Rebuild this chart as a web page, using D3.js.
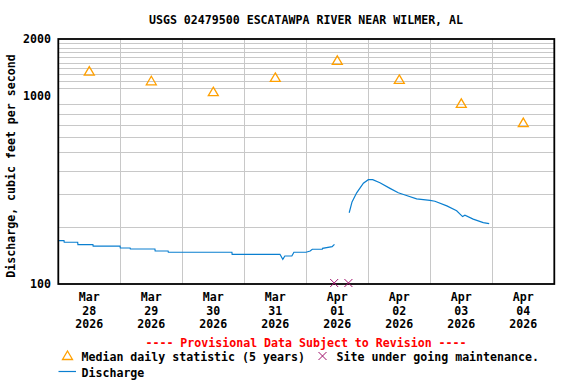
<!DOCTYPE html>
<html>
<head>
<meta charset="utf-8">
<script src="https://cdn.jsdelivr.net/npm/d3@7"></script>
<style>
  html, body { margin: 0; padding: 0; background: #fff; }
  svg text { font-family: "DejaVu Sans Mono", monospace; font-weight: bold; font-size: 11.6px; fill: #000; }
</style>
</head>
<body>
<svg id="chart" width="576" height="384"></svg>
<script>
// day labels (noon of each day), hours from Mar 28 00:00
const DAY_MONTH = ["Mar", "Mar", "Mar", "Mar", "Apr", "Apr", "Apr", "Apr"];
const DAY_NUM = ["28", "29", "30", "31", "01", "02", "03", "04"];
const DAY_YEAR = ["2026", "2026", "2026", "2026", "2026", "2026", "2026", "2026"];

// median daily statistic (5 years), one per day
const MEDIAN = [1350, 1200, 1050, 1250, 1540, 1220, 910, 720];

// discharge, two segments split by the maintenance gap
const Q1_HOURS = [0, 2.2, 2.3, 7.5, 7.6, 13.4, 13.5, 23.9, 24, 27.8, 27.9, 37.4, 37.5, 42.5, 42.6, 67.2, 67.3, 85.8, 86.9, 87.7, 90.4, 91.2, 95.9, 97.5, 98.3, 102.2, 102.3, 106, 106.9];
const Q1_VALUES = [170, 170, 166.6, 166.6, 161.7, 161.7, 159, 159, 155.3, 155.3, 153.4, 153.4, 149.7, 149.7, 147.4, 147.4, 143.8, 143.8, 135.3, 140.8, 140.8, 147.4, 147.4, 149.7, 152.9, 152.9, 154.7, 157.8, 162.5];
const Q2_HOURS = [112.6, 113.7, 115.5, 118.1, 120, 121.7, 124.5, 128.4, 131.6, 134.2, 138.7, 143.9, 145.8, 150.4, 154.2, 156.5, 157.4, 160.6, 164.5, 166.8];
const Q2_VALUES = [239, 273, 305, 343, 358, 358, 345, 322, 305, 297, 283, 278, 275, 260, 245, 228, 232, 221, 212, 209];

// site under maintenance markers
const MAINT_HOURS = [106.8, 112.3];

const Y_TICKS = [100, 1000, 2000];
const Y_GRID = [200, 300, 400, 500, 600, 700, 800, 900, 1100, 1200, 1300, 1400, 1500, 1600, 1700, 1800, 1900];

const svg = d3.select("#chart");
const L = 58.3, R = 554.3, T = 39, B = 284;

const x = d3.scaleLinear().domain([0, 192]).range([L, R]);
const y = d3.scaleLog().domain([100, 2000]).range([B, T]);

// title
svg.append("text").attr("x", 306).attr("y", 24).attr("text-anchor", "middle")
  .text("USGS 02479500 ESCATAWPA RIVER NEAR WILMER, AL");

// grid
const grid = svg.append("g").attr("stroke", "#c8c8c8").attr("stroke-width", 1);
grid.selectAll("line.h").data(Y_GRID).join("line")
  .attr("x1", L).attr("x2", R)
  .attr("y1", (d) => Math.round(y(d)) + 0.5).attr("y2", (d) => Math.round(y(d)) + 0.5);
grid.selectAll("line.v").data(d3.range(1, 8)).join("line")
  .attr("y1", T).attr("y2", B)
  .attr("x1", (d) => Math.round(x(d * 24)) + 0.5).attr("x2", (d) => Math.round(x(d * 24)) + 0.5);

// y tick labels
svg.selectAll("text.yt").data(Y_TICKS).join("text")
  .attr("x", 51).attr("y", (d) => y(d) + 4).attr("text-anchor", "end")
  .text((d) => d);

// y label
svg.append("text").attr("transform", "translate(15,166) rotate(-90)")
  .attr("text-anchor", "middle").text("Discharge, cubic feet per second");

// x labels
const xl = svg.selectAll("g.xl").data(DAY_MONTH).join("g")
  .attr("transform", (d, i) => `translate(${x(i * 24 + 12)},0)`);
xl.append("text").attr("y", 301).attr("text-anchor", "middle").text((d) => d);
xl.append("text").attr("y", 315).attr("text-anchor", "middle").text((d, i) => DAY_NUM[i]);
xl.append("text").attr("y", 328).attr("text-anchor", "middle").text((d, i) => DAY_YEAR[i]);

// discharge line
const line = d3.line().x((d) => x(d[0])).y((d) => y(d[1]));
const seg1 = Q1_HOURS.map((h, i) => [h, Q1_VALUES[i]]);
const seg2 = Q2_HOURS.map((h, i) => [h, Q2_VALUES[i]]);
svg.selectAll("path.q").data([seg1, seg2]).join("path")
  .attr("d", line).attr("fill", "none").attr("stroke", "#0a7fd0").attr("stroke-width", 1.2);

// median triangles
const tri = "M0,-4.5L5,4L-5,4Z";
svg.selectAll("path.med").data(MEDIAN).join("path")
  .attr("d", tri)
  .attr("transform", (d, i) => `translate(${x(i * 24 + 12)},${y(d)})`)
  .attr("fill", "none").attr("stroke", "#ffa000").attr("stroke-width", 1.3);

// frame
svg.append("rect").attr("x", L).attr("y", T).attr("width", R - L).attr("height", B - T)
  .attr("fill", "none").attr("stroke", "#000").attr("stroke-width", 1.8);

// maintenance markers
const cross = "M-4,-4L4,4M-4,4L4,-4";
svg.selectAll("path.mt").data(MAINT_HOURS).join("path")
  .attr("d", cross)
  .attr("transform", (d) => `translate(${x(d)},${y(100) - 1})`)
  .attr("fill", "none").attr("stroke", "#a0106a").attr("stroke-width", 1);

// provisional note
svg.append("text").attr("x", 306).attr("y", 347).attr("text-anchor", "middle")
  .style("fill", "#ff0000").text("---- Provisional Data Subject to Revision ----");

// legend
svg.append("path").attr("d", tri).attr("transform", "translate(67.5,355.5)")
  .attr("fill", "none").attr("stroke", "#ffa000").attr("stroke-width", 1.3);
svg.append("text").attr("x", 81.5).attr("y", 361).text("Median daily statistic (5 years)");
svg.append("path").attr("d", cross).attr("transform", "translate(322.5,356)")
  .attr("fill", "none").attr("stroke", "#a0106a").attr("stroke-width", 1);
svg.append("text").attr("x", 336.5).attr("y", 361).text("Site under going maintenance.");
svg.append("line").attr("x1", 58.5).attr("x2", 76).attr("y1", 371.5).attr("y2", 371.5)
  .attr("stroke", "#0a7fd0").attr("stroke-width", 1.2);
svg.append("text").attr("x", 81.5).attr("y", 377).text("Discharge");
</script>
</body>
</html>
